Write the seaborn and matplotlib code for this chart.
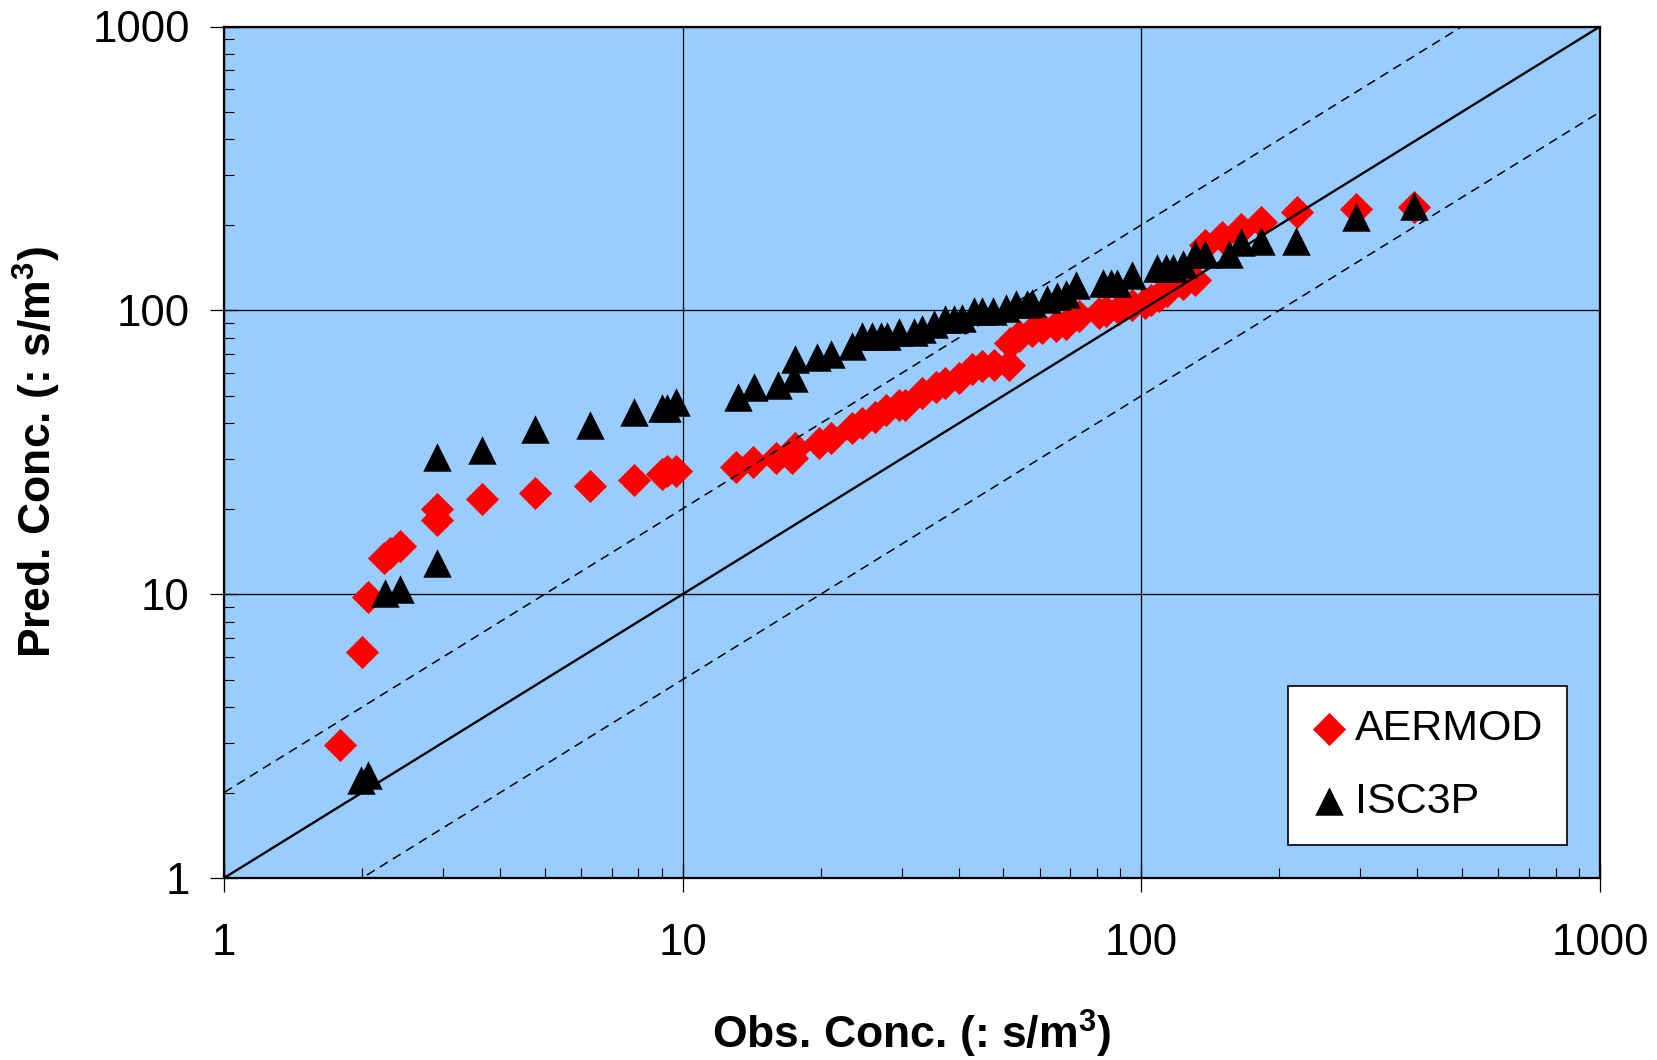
import numpy as np
import pandas as pd
import matplotlib
matplotlib.use('Agg')
import matplotlib.pyplot as plt
import seaborn as sns

aermod_obs = [1.79, 2.0, 2.06, 2.23, 2.30, 2.42, 2.92, 2.92, 3.65, 4.76, 6.27, 7.83, 9.0, 9.23, 9.67,
              13.1, 14.2, 16.0, 17.3, 17.6, 19.8, 21.1, 23.4, 24.6, 26.3, 27.7, 29.6, 30.6, 33.3, 35.6,
              37.4, 40.0, 42.8, 45.0, 47.7, 51.4, 51.8, 54.1, 57.8, 60.8, 65.0, 68.4, 73.1, 80.8, 83.6,
              89.3, 95.6, 102, 105, 109, 114, 123, 131, 138, 150, 165, 182, 219, 294, 394]
aermod_pred = [2.94, 6.26, 9.8, 13.4, 14.0, 14.8, 18.2, 19.9, 21.6, 22.8, 24.0, 25.3, 26.6, 27.2, 27.2,
               28.1, 29.3, 30.1, 30.1, 32.6, 34.0, 35.4, 38.4, 40.0, 42.2, 44.6, 46.4, 46.4, 51.1, 53.9,
               55.4, 57.8, 61.9, 63.5, 64.4, 64.4, 76.9, 81.2, 84.5, 86.9, 87.9, 89.2, 95.4, 98, 99.5,
               101, 104, 106, 109, 112, 117, 124, 128, 170, 182, 194, 205, 222, 228, 232]

isc3p_obs = [1.99, 2.06, 2.24, 2.42, 2.92, 2.92, 3.65, 4.76, 6.27, 7.83, 9.0, 9.23, 9.67,
             13.2, 14.3, 16.1, 17.5, 17.6, 19.6, 21.1, 23.4, 24.6, 25.9, 27.0, 27.9, 29.6, 31.9, 33.2,
             35.3, 37.4, 39.0, 40.7, 43.1, 45.0, 47.5, 50.6, 53.2, 56.4, 57.8, 62.4, 65.6, 68.4, 71.9,
             82.3, 85.8, 88.7, 95.6, 108, 113, 117, 123, 131, 138, 155, 165, 182, 217, 294, 394]
isc3p_pred = [2.21, 2.30, 10.1, 10.4, 12.9, 30.5, 32.2, 38.1, 39.4, 43.7, 45.2, 45.2, 47.5,
              49.4, 53.9, 54.7, 57.8, 67.5, 68.5, 69.9, 74.8, 81.2, 81.2, 81.2, 81.2, 83.8, 83.8, 85.7,
              89.8, 93.0, 93.5, 94.2, 99.5, 99.5, 99.5, 102, 105, 105, 106, 110, 112, 114, 123,
              125, 125, 125, 133, 141, 141, 141, 146, 158, 158, 158, 174, 176, 176, 213, 234]

axis_range = [1, 1000]
tick_values = [1, 10, 100, 1000]
tick_labels = ['1', '10', '100', '1000']
factor = 2

plt.rcParams['font.family'] = ['Liberation Sans', 'DejaVu Sans']
plt.rcParams['mathtext.fontset'] = 'custom'
plt.rcParams['mathtext.rm'] = 'Liberation Sans'
plt.rcParams['mathtext.bf'] = 'Liberation Sans:bold'

fig = plt.figure(figsize=(16.57, 10.6), dpi=100)
ax = fig.add_axes([0.1352, 0.1717, 0.8304, 0.8033])
ax.set_facecolor('#99CCFF')

# markers
sns.scatterplot(x=aermod_obs, y=aermod_pred, marker='D', s=285, color='#FF0000',
                linewidth=0, label='AERMOD', ax=ax, zorder=3)
sns.scatterplot(x=isc3p_obs, y=isc3p_pred, marker='^', s=420, color='black',
                linewidth=0, label='ISC3P', ax=ax, zorder=4)

# 1:1 and factor-of-two lines
ref = np.array(axis_range, dtype=float)
ax.plot(ref, ref, color='black', lw=1.7, zorder=5)
ax.plot(ref, ref * factor, color='black', lw=1.1, dashes=(6, 4), zorder=5)
ax.plot(ref, ref / factor, color='black', lw=1.1, dashes=(6, 4), zorder=5)

ax.set_xscale('log')
ax.set_yscale('log')
ax.set_xlim(axis_range)
ax.set_ylim(axis_range)

ax.set_xticks(tick_values)
ax.set_xticklabels(tick_labels)
ax.set_yticks(tick_values)
ax.set_yticklabels(tick_labels)
minor = [m * 10 ** d for d in range(3) for m in range(2, 10)]
ax.set_xticks(minor, minor=True)
ax.set_yticks(minor, minor=True)
ax.xaxis.set_minor_formatter(matplotlib.ticker.NullFormatter())
ax.yaxis.set_minor_formatter(matplotlib.ticker.NullFormatter())

ax.tick_params(which='major', direction='inout', length=19.5, width=0.9, colors='black',
               labelsize=31.5)
ax.tick_params(axis='x', which='major', pad=23)
ax.tick_params(axis='y', which='major', pad=15)
ax.tick_params(which='minor', direction='in', length=7, width=0.8, colors='black')

ax.grid(True, which='major', color='black', lw=0.9, zorder=1)
ax.set_axisbelow(True)
for sp in ax.spines.values():
    sp.set_linewidth(1.6)
    sp.set_color('black')

ax.set_xlabel(r'Obs. Conc. (: s/m$^{\mathbf{3}}$)', fontsize=32, fontweight='bold')
ax.set_ylabel(r'Pred. Conc. (: s/m$^{\mathbf{3}}$)', fontsize=32, fontweight='bold')
ax.xaxis.set_label_coords(0.5, -0.153)
ax.yaxis.set_label_coords(-0.117, 0.5)

leg = ax.legend(loc='lower right', bbox_to_anchor=(0.9762, 0.0382), borderaxespad=0,
                fontsize=31, frameon=True, fancybox=False, handlelength=0.8,
                handletextpad=0.2, borderpad=0.55, labelspacing=0.75)
leg.get_frame().set_edgecolor('black')
leg.get_frame().set_linewidth(1.2)
leg.get_frame().set_facecolor('white')
leg.get_frame().set_alpha(1)

fig.savefig('out.png', dpi=100, facecolor='white')
